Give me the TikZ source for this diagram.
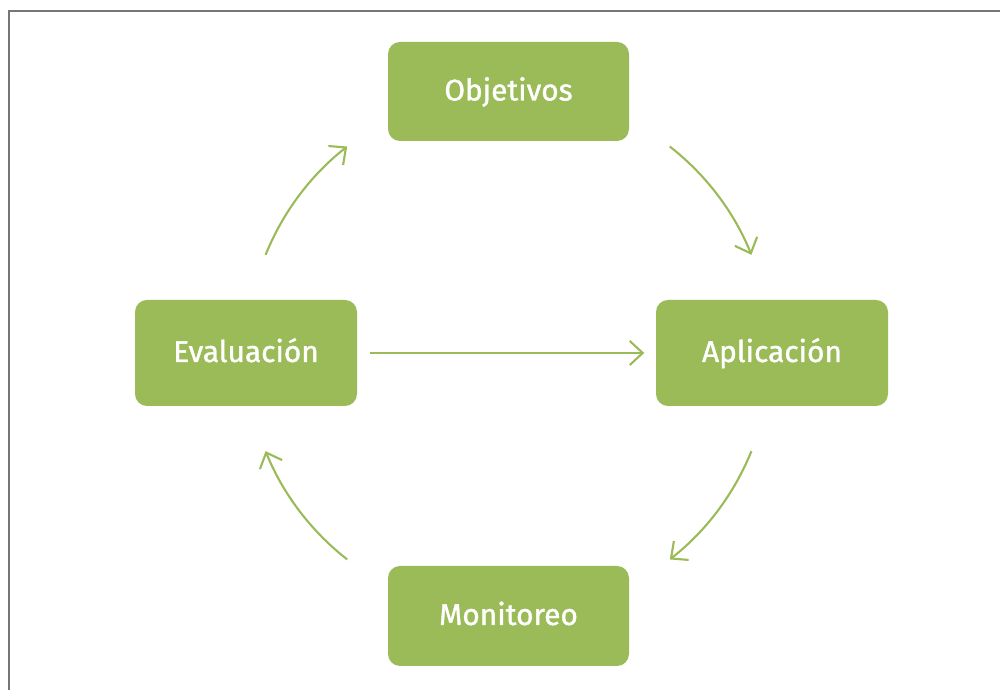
\documentclass[tikz,border=0pt]{standalone}
\usepackage{fontspec}
\newfontfamily\letra{Fira Sans}[FakeBold=1.2]
\usetikzlibrary{arrows.meta}
\definecolor{verde}{RGB}{155,187,89}
\definecolor{marco}{RGB}{118,118,118}

\begin{document}
\begin{tikzpicture}[x=0.1mm, y=0.1mm,
        caja/.style={fill=verde, rounded corners=1.2mm, text=white, inner sep=0pt,
            text height=2.3mm, text depth=0.5mm,
            font=\letra\fontsize{8.5}{10}\selectfont},
        flecha/.style={draw=verde, line width=0.6pt, -{Straight Barb[length=1.3mm, width=2.4mm]}}]
                \useasboundingbox (0, 0) rectangle (1000, 690);
                \draw[marco, line width=0.6pt] (9, 0)--(9, 679)--(1000, 679);

                \node[caja, minimum width=24.1mm, minimum height=9.9mm] (objetivos) at (508.5, 598.5) {Objetivos};
                \node[caja, minimum width=22.2mm, minimum height=10.6mm] (evaluacion) at (246, 337) {Evaluación};
                \node[caja, minimum width=23.2mm, minimum height=10.6mm] (aplicacion) at (772, 337) {Aplicación};
                \node[caja, minimum width=24.1mm, minimum height=10mm] (monitoreo) at (508.5, 74) {Monitoreo};

                \draw[flecha, shorten <=1.2mm, shorten >=1.1mm] (evaluacion) -- (aplicacion);

                \coordinate (centro) at (objetivos |- evaluacion);
                \foreach \a in {158, 52, -22, -128}
                    {
                        \draw[flecha] (centro) ++(\a:262) arc[start angle=\a, end angle=\a-30, radius=262];
                    }
            \end{tikzpicture}
\end{document}
